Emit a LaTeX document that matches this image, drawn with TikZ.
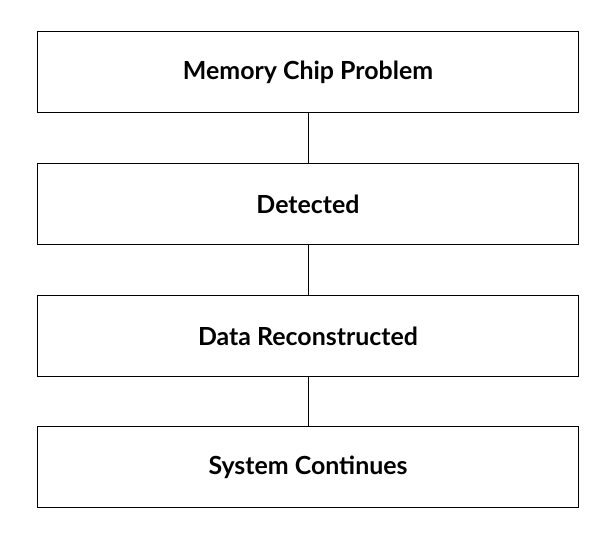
\documentclass[tikz,border=0pt]{standalone}
\usepackage{fontspec}
\setmainfont{Lato}
\usetikzlibrary{positioning}
\tikzset{stagebox/.style={rectangle, draw=black, line width=1pt, minimum width=540bp, minimum height=81bp, font=\bfseries\fontsize{25}{30}\selectfont}}

\begin{document}
\begin{tikzpicture}[x=1bp, y=1bp]
    \useasboundingbox (0,0) rectangle (612,540);
    % Stages
    \node[stagebox] (chip) at (308,467.5) {Memory Chip Problem};
    \node[stagebox, below=50bp of chip] (detect) {Detected};
    \node[stagebox, below=50bp of detect] (rebuild) {Data Reconstructed};
    \node[stagebox, below=49bp of rebuild] (cont) {System Continues};

    % Links
    \draw[line width=1pt] (chip) -- (detect);
    \draw[line width=1pt] (detect) -- (rebuild);
    \draw[line width=1pt] (rebuild) -- (cont);
\end{tikzpicture}
\end{document}
